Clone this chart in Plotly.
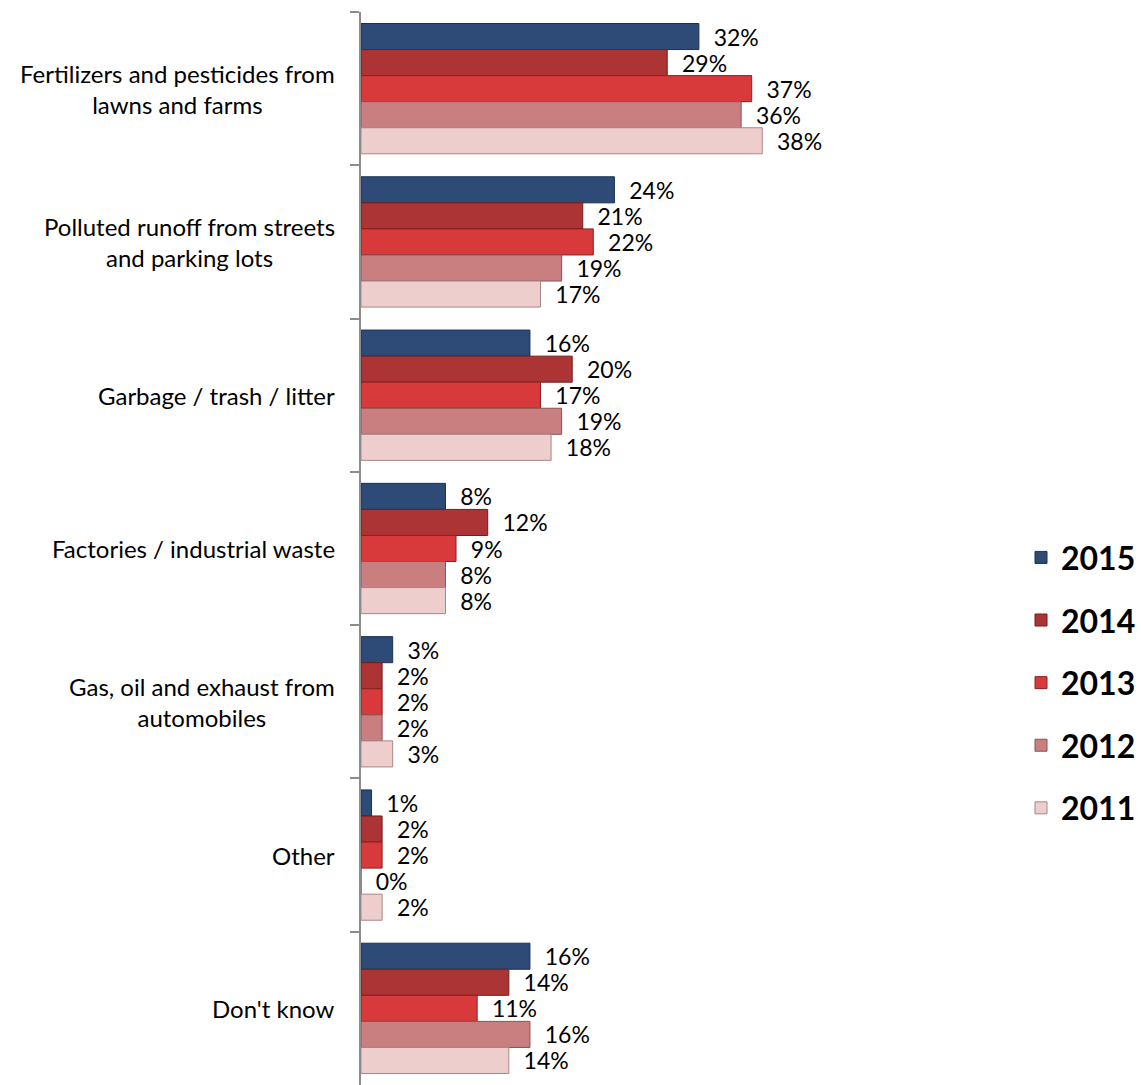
import plotly.graph_objects as go

# Survey categories, top to bottom
categories = [
    "Fertilizers and pesticides from<br>lawns and farms",
    "Polluted runoff from streets<br>and parking lots",
    "Garbage / trash / litter",
    "Factories / industrial waste",
    "Gas, oil and exhaust from<br>automobiles",
    "Other",
    "Don't know",
]

years = ["2015", "2014", "2013", "2012", "2011"]

values_2015 = [32, 24, 16, 8, 3, 1, 16]
values_2014 = [29, 21, 20, 12, 2, 2, 14]
values_2013 = [37, 22, 17, 9, 2, 2, 11]
values_2012 = [36, 19, 19, 8, 2, 0, 16]
values_2011 = [38, 17, 18, 8, 3, 2, 14]

series = [values_2015, values_2014, values_2013, values_2012, values_2011]

fill_colors = ["#2d4b76", "#ad3434", "#d8393b", "#c97f80", "#eecdcd"]
edge_colors = ["#1c3150", "#6e1e1e", "#8a2222", "#8c5253", "#a98686"]

FONT = "Lato, Liberation Sans, sans-serif"

fig = go.Figure()
for year, vals, fc, ec in zip(years, series, fill_colors, edge_colors):
    fig.add_trace(go.Bar(
        y=categories,
        x=vals,
        orientation="h",
        name=year,
        legendgroup=year,
        marker=dict(color=fc, line=dict(color=ec, width=1)),
        text=[f"  {v}%" for v in vals],
        textposition="outside",
        constraintext="none",
        cliponaxis=False,
        textfont=dict(family=FONT, size=23, color="#000000"),
        hoverinfo="skip",
    ))

# Category labels, centred text block right-aligned against the axis
for cat in categories:
    fig.add_annotation(
        x=0, xref="paper", y=cat, yref="y",
        text=cat, showarrow=False,
        xanchor="right", yanchor="middle", align="center",
        xshift=-24,
        font=dict(family=FONT, size=24, color="#000000"),
    )

fig.update_layout(
    width=1141,
    height=1085,
    margin=dict(l=361, r=146, t=12, b=0),
    plot_bgcolor="white",
    paper_bgcolor="white",
    barmode="group",
    bargap=0.15,
    bargroupgap=0,
    showlegend=True,
    legend=dict(
        x=1.06, xanchor="left",
        y=0.375, yanchor="middle",
        font=dict(family=FONT, size=32, color="#000000", weight="bold"),
        tracegroupgap=18,
        itemwidth=30,
        bgcolor="rgba(0,0,0,0)",
    ),
    xaxis=dict(
        range=[0, 59],
        showgrid=False,
        zeroline=False,
        showticklabels=False,
        showline=False,
        ticks="",
    ),
    yaxis=dict(
        categoryorder="array",
        categoryarray=categories,
        autorange="reversed",
        showgrid=False,
        showline=True,
        linecolor="#8c8c8c",
        linewidth=1.5,
        ticks="outside",
        tickson="boundaries",
        ticklen=9,
        tickcolor="#8c8c8c",
        tickwidth=1.5,
        showticklabels=False,
    ),
)

fig.write_html("out.html")
